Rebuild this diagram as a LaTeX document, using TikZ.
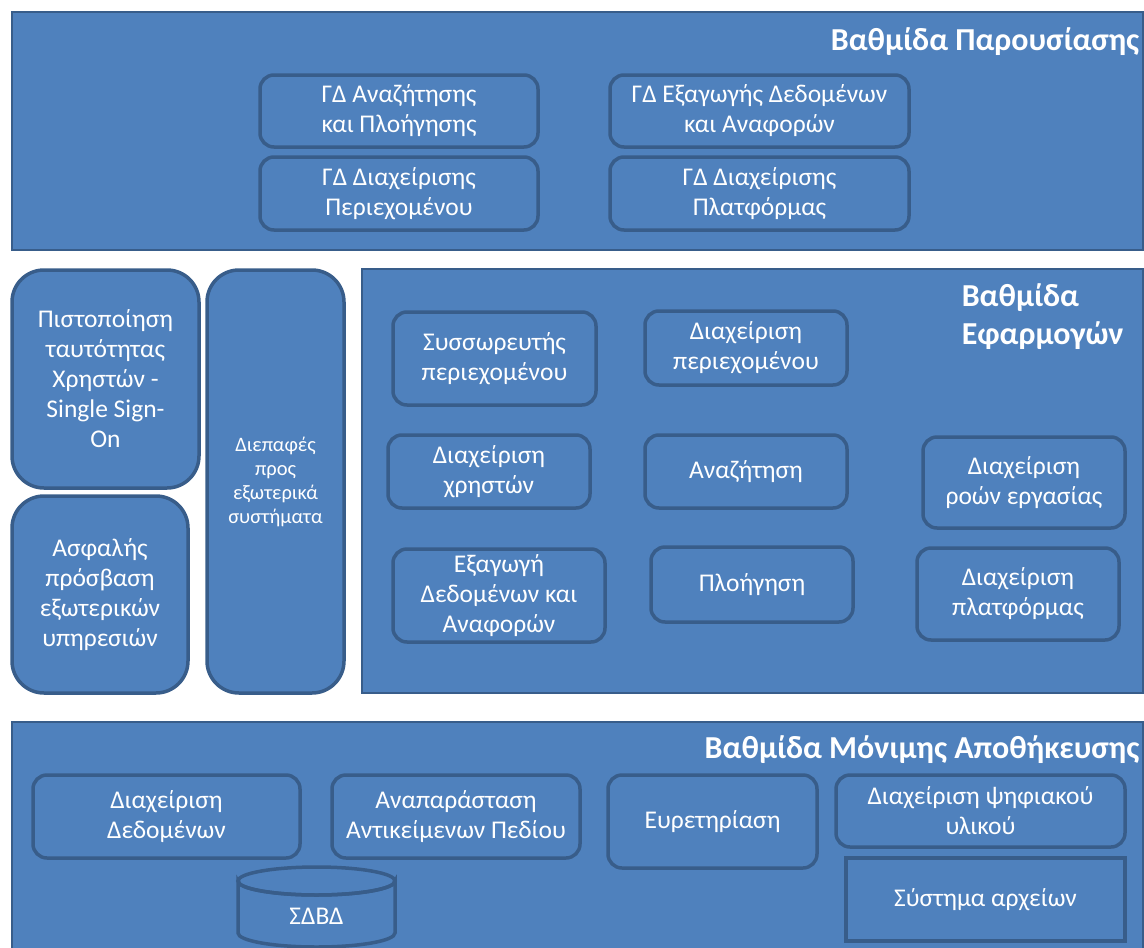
\documentclass[tikz,border=0pt]{standalone}
\usepackage{fontspec}
\setmainfont{Carlito}
\usetikzlibrary{positioning}
\definecolor{tierblue}{HTML}{4F81BD}
\definecolor{tierline}{HTML}{385D8A}

\begin{document}
\begin{tikzpicture}
    [x=1pt, y=-1pt, every node/.style={draw=tierline, fill=tierblue, text=white, align=center, inner sep=0pt, line width=3.5pt, rounded corners=14pt, font=\fontsize{25.5}{30}\selectfont},
     tier/.style={rounded corners=0pt, line width=2.5pt},
     sharp/.style={rounded corners=0pt},
     bigbox/.style={rounded corners=32pt},
     tiername/.style={draw=none, fill=none, font=\fontsize{32}{38}\selectfont\bfseries}]
  \clip (0,0) rectangle (1144,948);
  \node[tier, minimum width=1131pt, minimum height=238pt] (pres) at (577.5,131) {};
  \node[tier, minimum width=781pt, minimum height=424pt] (app) at (752.5,481) {};
  \node[tier, minimum width=1131pt, minimum height=238pt] (stor) at (577.5,841) {};

  \node[tiername, anchor=base east] (prestitle) at (1141,50) {Βαθμίδα Παρουσίασης};
  \node[tiername, anchor=north west, align=left] (apptitle) at (960,282) {Βαθμίδα\\Εφαρμογών};
  \node[tiername, anchor=base east] (stortitle) at (1141,758) {Βαθμίδα Μόνιμης Αποθήκευσης};

  \node[minimum width=278pt, minimum height=72pt] (gd1) at (399,111) {ΓΔ Αναζήτησης\\και Πλοήγησης};
  \node[minimum width=278pt, minimum height=73pt] (gd2) at (399,193.5) {ΓΔ Διαχείρισης\\Περιεχομένου};
  \node[minimum width=299pt, minimum height=72pt] (gd3) at (759.5,111) {ΓΔ Εξαγωγής Δεδομένων\\και Αναφορών};
  \node[minimum width=299pt, minimum height=73pt] (gd4) at (759.5,193.5) {ΓΔ Διαχείρισης\\Πλατφόρμας};

  \node[bigbox, minimum width=187pt, minimum height=218pt] (sso) at (105.5,379) {Πιστοποίηση\\ταυτότητας\\Χρηστών -\\Single Sign-\\On};
  \node[bigbox, minimum width=176pt, minimum height=197pt] (secure) at (100,594.5) {Ασφαλής\\πρόσβαση\\εξωτερικών\\υπηρεσιών};
  \node[bigbox, minimum width=137pt, minimum height=423pt, font=\fontsize{20.5}{24}\selectfont] (ext) at (275.5,481.5) {Διεπαφές\\προς\\εξωτερικά\\συστήματα};

  \node[minimum width=203pt, minimum height=93pt] (agg) at (494.5,358.5) {Συσσωρευτής\\περιεχομένου};
  \node[minimum width=202pt, minimum height=74pt] (cms) at (746,348) {Διαχείριση\\περιεχομένου};
  \node[minimum width=202pt, minimum height=73pt] (users) at (489,471.5) {Διαχείριση\\χρηστών};
  \node[minimum width=202pt, minimum height=73pt] (search) at (746,471.5) {Αναζήτηση};
  \node[minimum width=202pt, minimum height=91pt] (flow) at (1024,482.5) {Διαχείριση\\ροών εργασίας};
  \node[minimum width=212pt, minimum height=93pt] (export) at (499,595.5) {Εξαγωγή\\Δεδομένων και\\Αναφορών};
  \node[minimum width=202pt, minimum height=75pt] (browse) at (752,584.5) {Πλοήγηση};
  \node[minimum width=202pt, minimum height=92pt] (platform) at (1018,594) {Διαχείριση\\πλατφόρμας};

  \node[minimum width=267pt, minimum height=83pt] (data) at (166.5,816.5) {Διαχείριση\\Δεδομένων};
  \node[minimum width=248pt, minimum height=83pt] (model) at (456,816.5) {Αναπαράσταση\\Αντικείμενων Πεδίου};
  \node[minimum width=209pt, minimum height=93pt] (index) at (712.5,821.5) {Ευρετηρίαση};
  \node[minimum width=289pt, minimum height=72pt] (media) at (980.5,811) {Διαχείριση ψηφιακού\\υλικού};
  \node[sharp, minimum width=279pt, minimum height=83pt] (files) at (985.5,899.5) {Σύστημα αρχείων};

  \draw[draw=tierline, fill=tierblue, line width=3.5pt] (238,881) -- (238,933) arc[start angle=180, end angle=0, x radius=78.5, y radius=14] -- (395,881) arc[start angle=0, end angle=180, x radius=78.5, y radius=14] -- cycle;
  \draw[draw=tierline, line width=3.5pt] (316.5,881) ellipse[x radius=78.5, y radius=14];
  \node[draw=none, fill=none] (dbms) at (316.5,916) {ΣΔΒΔ};
\end{tikzpicture}
\end{document}
